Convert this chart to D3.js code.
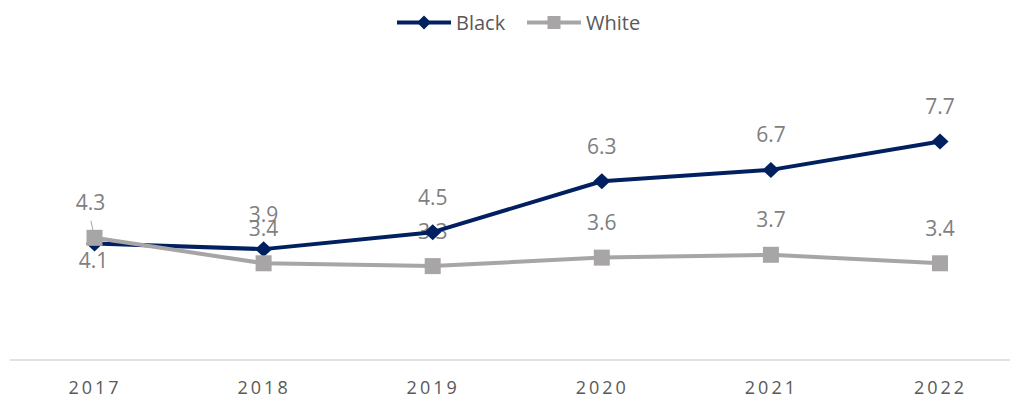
<!DOCTYPE html>
<html>
<head>
<meta charset="utf-8">
<script src="https://cdn.jsdelivr.net/npm/d3@7"></script>
<style>
  body { margin: 0; background: #fff; }
  svg text { font-family: "Open Sans", "Liberation Sans", sans-serif; }
</style>
</head>
<body>
<svg id="chart" width="1010" height="399"></svg>
<script>
const years = ["2017", "2018", "2019", "2020", "2021", "2022"]
const black = [4.1, 3.9, 4.5, 6.3, 6.7, 7.7]
const white = [4.3, 3.4, 3.3, 3.6, 3.7, 3.4]
const seriesNames = ["Black", "White"]

const navy = "#002060"
const grey = "#a7a5a5"
const labelGrey = "#7f7f7f"

const svg = d3.select("#chart")
const W = 1010

let x = d3.scalePoint().domain(years).range([94.5, 940]).padding(0)
let y = d3.scaleLinear().domain([0, 10]).range([359.5, 76.5])

// axis line + year labels
let axis = svg.append("g")
    .attr("transform", "translate(0,360)")
    .call(d3.axisBottom(x).tickSize(0).tickPadding(0))
axis.select(".domain").remove()
axis.append("line").attr("x1", 10).attr("x2", W).attr("stroke", "#d9d9d9").attr("stroke-width", 1.5)
axis.selectAll(".tick text")
    .attr("y", 34)
    .attr("dy", 0)
    .attr("fill", "#595959")
    .attr("font-size", 18)
    .attr("letter-spacing", 3)
    .attr("font-family", "Open Sans, sans-serif")

// data labels (under the lines, like the original)
let labels = svg.append("g").attr("fill", labelGrey).attr("font-size", 21).attr("text-anchor", "middle")
black.forEach((v, i) => {
    let below = i == 0
    labels.append("text")
        .attr("x", x(years[i]) - (below ? 1 : 0))
        .attr("y", y(v) + (below ? 17 : -35))
        .attr("dy", "0.36em")
        .text(v.toFixed(1))
})
white.forEach((v, i) => {
    labels.append("text")
        .attr("x", x(years[i]) - (i == 0 ? 4 : 0))
        .attr("y", y(v) - 35)
        .attr("dy", "0.36em")
        .text(v.toFixed(1))
})
// leader line for 2017 white label
svg.append("line")
    .attr("x1", x(years[0]) - 3.5).attr("y1", y(white[0]) - 17)
    .attr("x2", x(years[0]) - 1.5).attr("y2", y(white[0]) - 7)
    .attr("stroke", "#a6a6a6").attr("stroke-width", 1)

let line = d3.line().x((d, i) => x(years[i])).y(d => y(d))

// black series
svg.append("path").datum(black)
    .attr("d", line).attr("fill", "none").attr("stroke", navy).attr("stroke-width", 4)
    .attr("stroke-linejoin", "round")
svg.selectAll(".dia").data(black).join("path")
    .attr("class", "dia")
    .attr("transform", (d, i) => `translate(${x(years[i])},${y(d)})`)
    .attr("d", "M0,-8L8.5,0L0,8L-8.5,0Z")
    .attr("fill", navy)

// white series
svg.append("path").datum(white)
    .attr("d", line).attr("fill", "none").attr("stroke", grey).attr("stroke-width", 4)
    .attr("stroke-linejoin", "round")
svg.selectAll(".sq").data(white).join("rect")
    .attr("class", "sq")
    .attr("x", (d, i) => x(years[i]) - 8)
    .attr("y", d => y(d) - 8)
    .attr("width", 16).attr("height", 16)
    .attr("fill", grey)

// legend
let legend = svg.append("g").attr("transform", "translate(397,22.5)")
seriesNames.forEach((name, i) => {
    let g = legend.append("g").attr("transform", `translate(${i * 130},0)`)
    let col = i == 0 ? navy : grey
    g.append("line").attr("x1", 0).attr("x2", 54).attr("stroke", col).attr("stroke-width", 4)
    if (i == 0) {
        g.append("path").attr("d", "M27,-7L34,0L27,7L20,0Z").attr("fill", col)
    } else {
        g.append("rect").attr("x", 20.5).attr("y", -6.5).attr("width", 13).attr("height", 13).attr("fill", col)
    }
    g.append("text").attr("x", 59).attr("dy", "0.36em")
        .attr("fill", "#595959").attr("font-size", 20).text(name)
})
</script>
</body>
</html>
